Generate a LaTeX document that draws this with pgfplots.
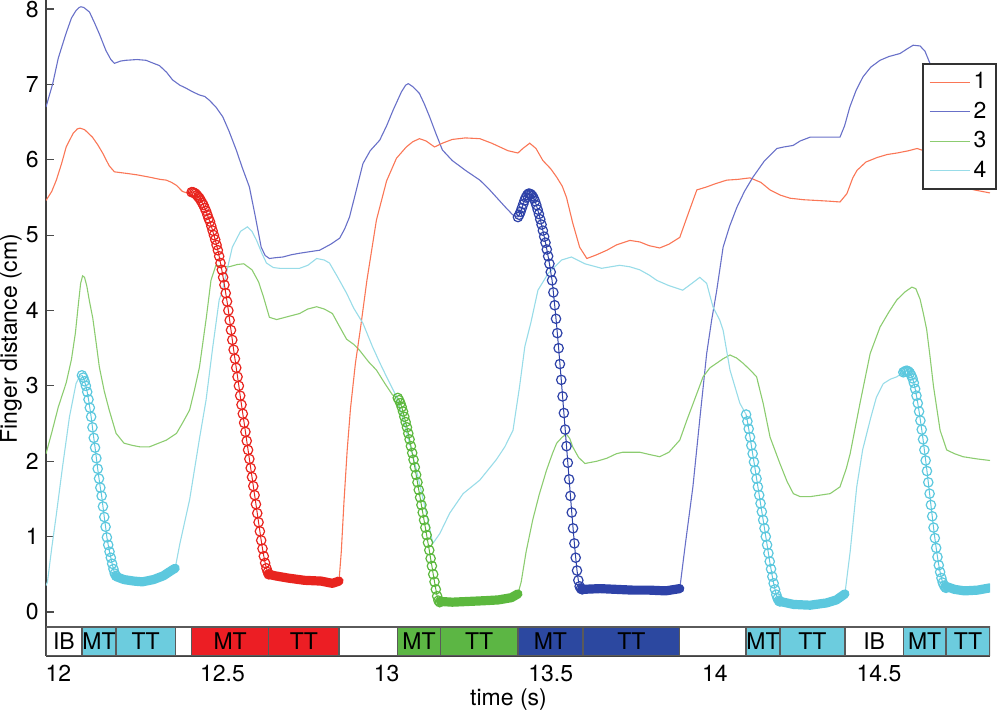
\documentclass[border=0pt]{standalone}
\usepackage{fontspec}
\setmainfont{TeX Gyre Heros}
\usepackage{pgfplots}
\usepackage{pgfplotstable}
\pgfplotsset{compat=1.18}

\definecolor{cAl}{RGB}{250,118,86}
\definecolor{cAm}{RGB}{232,36,30}
\definecolor{cAs}{RGB}{236,30,36}
\definecolor{cBl}{RGB}{104,112,200}
\definecolor{cBm}{RGB}{46,66,168}
\definecolor{cBs}{RGB}{44,72,160}
\definecolor{cCl}{RGB}{140,204,112}
\definecolor{cCm}{RGB}{92,184,62}
\definecolor{cCs}{RGB}{92,182,68}
\definecolor{cDl}{RGB}{152,220,232}
\definecolor{cDm}{RGB}{92,200,222}
\definecolor{cDs}{RGB}{108,204,222}
\definecolor{edge}{RGB}{90,90,90}

% ---------- series 1 ----------
\pgfplotstableread{
t v
11.9625 5.46
11.980 5.58
11.994 5.73
12.010 5.95
12.024 6.17
12.045 6.35
12.058 6.41
12.066 6.42
12.080 6.40
12.104 6.30
12.120 6.20
12.135 6.09
12.155 5.92
12.171 5.84
12.207 5.82
12.240 5.80
12.277 5.77
12.310 5.74
12.329 5.73
12.345 5.70
12.360 5.66
12.378 5.58
12.392 5.56
12.406 5.57
}\oneA
\pgfplotstableread{
t v
12.406 5.57
12.410 5.57
12.414 5.56
12.418 5.55
12.422 5.53
12.426 5.51
12.430 5.49
12.434 5.46
12.438 5.43
12.442 5.40
12.446 5.36
12.450 5.32
12.454 5.27
12.458 5.22
12.462 5.18
12.466 5.12
12.470 5.06
12.474 5.00
12.478 4.94
12.482 4.87
12.486 4.80
12.490 4.72
12.494 4.63
12.498 4.54
12.502 4.44
12.506 4.34
12.510 4.23
12.514 4.12
12.518 4.00
12.522 3.87
12.526 3.74
12.530 3.61
12.534 3.48
12.538 3.36
12.542 3.24
12.546 3.12
12.550 3.00
12.554 2.87
12.558 2.75
12.562 2.63
12.566 2.51
12.570 2.39
12.574 2.27
12.578 2.15
12.582 2.03
12.586 1.91
12.590 1.79
12.594 1.67
12.598 1.55
12.602 1.43
12.606 1.31
12.610 1.19
12.614 1.07
12.618 0.95
12.622 0.84
12.626 0.74
12.630 0.65
12.634 0.58
12.638 0.53
12.641 0.50
}\oneMT
\pgfplotstableread{
t v
12.641 0.50
12.660 0.48
12.700 0.45
12.750 0.42
12.800 0.41
12.835 0.38
12.855 0.41
}\oneTT
\pgfplotstableread{
t v
12.855 0.41
12.862 0.80
12.870 1.45
12.880 2.15
12.890 2.70
12.905 3.30
12.920 3.75
12.940 4.40
12.969 5.20
13.000 5.72
13.030 6.02
13.060 6.17
13.080 6.24
13.100 6.28
13.120 6.25
13.146 6.17
13.170 6.22
13.200 6.27
13.240 6.29
13.284 6.28
13.320 6.22
13.345 6.17
13.370 6.12
13.400 6.09
13.415 6.15
13.436 6.22
13.455 6.15
13.476 5.99
13.500 5.88
13.518 5.77
13.535 5.65
13.548 5.50
13.567 5.16
13.588 4.84
13.610 4.69
13.640 4.74
13.671 4.80
13.700 4.87
13.741 4.93
13.771 4.91
13.800 4.86
13.832 4.83
13.860 4.88
13.893 4.97
13.920 5.30
13.945 5.60
13.975 5.64
14.000 5.68
14.036 5.73
14.070 5.74
14.107 5.76
14.140 5.70
14.168 5.60
14.200 5.53
14.229 5.49
14.270 5.47
14.311 5.46
14.350 5.45
14.381 5.44
14.402 5.55
14.420 5.76
14.433 5.86
14.460 5.97
14.494 6.03
14.525 6.07
14.555 6.09
14.590 6.12
14.616 6.15
14.650 6.10
14.690 5.93
14.716 5.77
14.756 5.64
14.790 5.60
14.838 5.56
}\oneB

% ---------- series 2 ----------
\pgfplotstableread{
t v
11.9625 6.70
11.983 7.01
12.000 7.35
12.023 7.67
12.040 7.88
12.054 7.98
12.063 8.02
12.069 8.03
12.078 8.02
12.095 7.96
12.110 7.82
12.125 7.67
12.145 7.45
12.160 7.33
12.171 7.28
12.190 7.31
12.206 7.32
12.240 7.33
12.267 7.32
12.290 7.28
12.308 7.25
12.330 7.16
12.348 7.06
12.370 6.99
12.389 6.95
12.410 6.90
12.430 6.86
12.446 6.84
12.460 6.79
12.480 6.70
12.501 6.57
12.520 6.38
12.542 6.13
12.560 5.90
12.582 5.64
12.600 5.25
12.618 4.84
12.630 4.73
12.643 4.69
12.660 4.70
12.684 4.71
12.710 4.74
12.735 4.76
12.765 4.78
12.796 4.80
12.830 4.88
12.857 4.96
12.872 5.08
12.887 5.24
12.905 5.55
12.928 5.95
12.950 6.12
12.979 6.26
13.000 6.45
13.020 6.66
13.045 6.90
13.058 6.99
13.066 7.01
13.080 6.97
13.100 6.88
13.115 6.74
13.131 6.57
13.150 6.35
13.170 6.13
13.200 5.99
13.240 5.86
13.284 5.73
13.310 5.62
13.335 5.50
13.360 5.38
13.384 5.27
13.400 5.24
}\twoA
\pgfplotstableread{
t v
13.400 5.24
13.404 5.27
13.408 5.31
13.412 5.36
13.416 5.41
13.420 5.46
13.424 5.50
13.428 5.53
13.432 5.55
13.436 5.55
13.440 5.54
13.444 5.52
13.448 5.49
13.452 5.45
13.456 5.40
13.460 5.34
13.464 5.28
13.468 5.21
13.472 5.14
13.476 5.06
13.480 4.98
13.484 4.90
13.488 4.81
13.492 4.72
13.496 4.62
13.500 4.51
13.504 4.40
13.508 4.24
13.512 4.07
13.516 3.89
13.520 3.70
13.524 3.50
13.528 3.29
13.532 3.08
13.536 2.86
13.540 2.64
13.544 2.42
13.548 2.20
13.552 1.98
13.556 1.76
13.560 1.54
13.564 1.32
13.568 1.11
13.572 0.91
13.576 0.72
13.580 0.55
13.584 0.42
13.588 0.34
13.592 0.31
13.596 0.30
}\twoMT
\pgfplotstableread{
t v
13.596 0.30
13.650 0.31
13.700 0.30
13.750 0.29
13.800 0.29
13.850 0.28
13.893 0.31
}\twoTT
\pgfplotstableread{
t v
13.893 0.31
13.910 0.90
13.933 1.66
13.955 2.60
13.975 3.43
13.990 3.87
14.005 4.25
14.025 4.84
14.045 5.12
14.067 5.37
14.090 5.58
14.116 5.77
14.150 5.98
14.189 6.15
14.210 6.17
14.238 6.19
14.260 6.25
14.290 6.30
14.340 6.30
14.381 6.30
14.395 6.45
14.411 6.70
14.430 6.92
14.451 7.10
14.475 7.23
14.503 7.32
14.530 7.37
14.564 7.41
14.585 7.47
14.604 7.52
14.625 7.51
14.640 7.44
14.655 7.28
14.675 7.00
14.700 6.75
14.750 6.50
14.800 6.35
14.838 6.30
}\twoB

% ---------- series 3 ----------
\pgfplotstableread{
t v
11.9625 2.10
11.980 2.38
12.000 2.72
12.024 3.04
12.040 3.35
12.052 3.70
12.061 4.08
12.068 4.36
12.074 4.46
12.080 4.44
12.087 4.32
12.095 4.12
12.105 3.90
12.115 3.58
12.125 3.25
12.140 2.93
12.155 2.68
12.176 2.37
12.200 2.24
12.226 2.21
12.250 2.19
12.277 2.19
12.300 2.23
12.329 2.28
12.360 2.37
12.380 2.52
12.400 2.68
12.415 2.95
12.430 3.25
12.451 3.91
12.465 4.40
12.480 4.60
12.500 4.59
12.520 4.58
12.545 4.61
12.565 4.62
12.590 4.54
12.610 4.38
12.625 4.18
12.643 3.91
12.665 3.88
12.700 3.92
12.735 3.96
12.760 4.02
12.787 4.05
12.810 4.02
12.835 3.96
12.855 3.80
12.878 3.62
12.900 3.55
12.918 3.47
12.945 3.32
12.969 3.21
12.995 3.03
13.018 2.88
13.034 2.84
}\threeA
\pgfplotstableread{
t v
13.034 2.84
13.038 2.81
13.042 2.77
13.046 2.72
13.050 2.66
13.054 2.59
13.058 2.52
13.062 2.45
13.066 2.37
13.070 2.29
13.074 2.20
13.078 2.11
13.082 2.02
13.086 1.92
13.090 1.82
13.094 1.72
13.098 1.62
13.102 1.52
13.106 1.42
13.110 1.32
13.114 1.22
13.118 1.12
13.122 1.02
13.126 0.92
13.130 0.82
13.134 0.71
13.138 0.61
13.142 0.50
13.146 0.40
13.150 0.30
13.154 0.21
13.158 0.15
13.162 0.13
}\threeMT
\pgfplotstableread{
t v
13.164 0.14
13.200 0.13
13.250 0.14
13.300 0.15
13.340 0.16
13.380 0.19
13.400 0.24
}\threeTT
\pgfplotstableread{
t v
13.400 0.24
13.410 0.40
13.425 0.80
13.445 1.22
13.465 1.56
13.487 1.88
13.505 2.10
13.518 2.24
13.535 2.32
13.548 2.36
13.558 2.30
13.567 2.19
13.585 2.05
13.604 1.97
13.640 2.00
13.671 2.04
13.700 2.10
13.720 2.12
13.771 2.12
13.800 2.09
13.832 2.06
13.860 2.12
13.893 2.28
13.915 2.55
13.934 2.77
13.964 3.12
13.985 3.24
14.005 3.30
14.025 3.36
14.046 3.41
14.066 3.37
14.086 3.30
14.110 3.20
14.127 3.12
14.147 2.77
14.168 2.32
14.198 1.97
14.220 1.73
14.239 1.57
14.260 1.53
14.290 1.53
14.320 1.55
14.351 1.57
14.381 1.66
14.400 1.90
14.412 2.10
14.442 2.77
14.473 3.43
14.503 3.78
14.530 3.98
14.554 4.14
14.580 4.25
14.600 4.31
14.612 4.29
14.625 4.15
14.635 3.96
14.645 3.75
14.655 3.40
14.666 2.99
14.686 2.41
14.706 2.15
14.730 2.10
14.756 2.06
14.800 2.03
14.838 2.01
}\threeB

% ---------- series 4 ----------
\pgfplotstableread{
t v
11.9625 0.35
11.967 0.40
11.980 0.85
11.993 1.26
12.013 1.93
12.034 2.59
12.054 3.03
12.064 3.12
12.072 3.14
}\fourA
\pgfplotstableread{
t v
12.072 3.14
12.076 3.11
12.080 3.06
12.084 3.00
12.088 2.92
12.092 2.82
12.096 2.71
12.100 2.59
12.104 2.45
12.108 2.31
12.112 2.18
12.116 2.04
12.120 1.90
12.124 1.77
12.128 1.65
12.132 1.54
12.136 1.40
12.140 1.26
12.144 1.13
12.148 0.99
12.152 0.89
12.156 0.80
12.160 0.72
12.164 0.64
12.168 0.57
12.172 0.51
12.176 0.48
}\fourMTa
\pgfplotstableread{
t v
12.176 0.47
12.200 0.43
12.230 0.41
12.256 0.40
12.290 0.43
12.320 0.48
12.348 0.56
12.356 0.58
}\fourTTa
\pgfplotstableread{
t v
12.356 0.58
12.370 0.90
12.400 1.49
12.430 2.30
12.450 2.81
12.470 3.50
12.490 4.14
12.500 4.27
12.530 4.84
12.555 5.05
12.576 5.11
12.590 5.05
12.604 4.93
12.620 4.76
12.634 4.63
12.655 4.57
12.674 4.56
12.735 4.56
12.760 4.60
12.787 4.69
12.810 4.67
12.826 4.63
12.850 4.45
12.878 4.23
12.900 4.03
12.928 3.83
12.957 3.52
12.980 3.30
13.000 3.12
13.030 2.86
13.060 2.41
13.091 1.88
13.121 1.31
13.141 0.91
13.162 1.04
13.192 1.31
13.233 1.57
13.284 1.75
13.334 2.02
13.360 2.19
13.385 2.41
13.405 2.99
13.421 3.52
13.440 3.85
13.461 4.27
13.492 4.49
13.533 4.67
13.563 4.71
13.604 4.62
13.655 4.56
13.710 4.60
13.741 4.58
13.771 4.54
13.800 4.47
13.823 4.40
13.860 4.33
13.902 4.27
13.930 4.36
13.954 4.44
13.975 4.36
13.994 4.05
14.015 3.87
14.025 3.74
14.046 3.21
14.076 2.77
14.095 2.62
}\fourB
\pgfplotstableread{
t v
14.095 2.62
14.099 2.53
14.103 2.43
14.107 2.32
14.111 2.21
14.115 2.10
14.119 1.99
14.123 1.88
14.127 1.77
14.131 1.66
14.135 1.55
14.139 1.44
14.143 1.33
14.147 1.22
14.151 1.11
14.155 1.00
14.159 0.89
14.163 0.78
14.167 0.67
14.171 0.57
14.175 0.47
14.179 0.38
14.183 0.30
14.187 0.23
14.191 0.18
14.195 0.15
14.198 0.14
}\fourMTb
\pgfplotstableread{
t v
14.198 0.14
14.240 0.10
14.290 0.09
14.340 0.12
14.370 0.16
14.396 0.24
}\fourTTb
\pgfplotstableread{
t v
14.396 0.24
14.412 0.80
14.432 1.66
14.450 2.15
14.473 2.55
14.492 2.85
14.513 3.03
14.535 3.09
14.554 3.12
14.574 3.18
}\fourC
\pgfplotstableread{
t v
14.574 3.18
14.578 3.19
14.582 3.20
14.586 3.20
14.590 3.19
14.594 3.17
14.598 3.14
14.602 3.10
14.606 3.04
14.610 2.96
14.614 2.87
14.618 2.77
14.622 2.66
14.626 2.54
14.630 2.42
14.634 2.29
14.638 2.15
14.642 2.01
14.646 1.87
14.650 1.72
14.654 1.57
14.658 1.42
14.662 1.27
14.666 1.12
14.670 0.98
14.674 0.85
14.678 0.73
14.682 0.62
14.686 0.53
14.690 0.45
14.694 0.39
14.698 0.35
14.702 0.33
14.704 0.32
}\fourMTc
\pgfplotstableread{
t v
14.704 0.34
14.730 0.30
14.760 0.28
14.800 0.29
14.838 0.32
}\fourTTc

\pgfplotsset{
  lA/.style={color=cAl, line width=0.55pt, mark=none},
  lB/.style={color=cBl, line width=0.55pt, mark=none},
  lC/.style={color=cCl, line width=0.55pt, mark=none},
  lD/.style={color=cDl, line width=0.55pt, mark=none},
  mt/.style={color=#1, line width=0.5pt, mark=o, mark size=2.35pt, mark options={line width=0.6pt}, forget plot},
  tt/.style={color=#1, line width=4.6pt, line cap=round, line join=round, mark=none, forget plot},
  sg/.style={fill=#1, draw=edge, line width=0.6pt, forget plot},
}
\newcommand{\sfont}{\fontsize{11.5}{13}\selectfont}

\begin{document}
\begin{tikzpicture}
\useasboundingbox (-23pt,-30pt) rectangle (477pt,328pt);
\begin{axis}[
  at={(0,0)}, anchor=south west,
  width=472pt, height=328pt, scale only axis,
  xmin=11.9625, xmax=14.838, ymin=-0.584, ymax=8.12,
  axis x line*=bottom, axis y line*=left,
  axis line style={-, draw=black!75, line width=0.6pt},
  xtick={12,12.5,13,13.5,14,14.5},
  xticklabels={12,12.5,13,13.5,14,14.5},
  xtick style={draw=none},
  ytick={0,1,2,3,4,5,6,7,8},
  ytick style={draw=black!70, line width=0.6pt},
  tick align=inside, major tick length=4pt,
  tick label style={font=\sfont, text=black},
  /pgf/number format/assume math mode=true,
  xticklabel style={inner sep=0pt, yshift=-4.5pt},
  yticklabel style={inner sep=3.5pt},
  xlabel={time (s)}, ylabel={Finger distance (cm)},
  label style={font=\sfont},
  xlabel style={at={(axis description cs:0.49,-0.0671)}, anchor=center},
  ylabel style={at={(axis description cs:-0.0371,0.484)}, anchor=center},
  legend style={at={(axis description cs:1.0074,0.904)}, anchor=north east,
    draw=black!80, line width=0.9pt, fill=white, font=\sfont,
    inner xsep=3pt, inner ysep=2.5pt, row sep=1.5pt,
    nodes={inner sep=1.8pt}},
  legend cell align=left,
  legend image code/.code={\draw[#1, line width=0.55pt] (0pt,0pt) -- (20pt,0pt);},
  clip=true,
]
% strip of phases
\addplot[sg=white] coordinates {(11.9625,-0.584) (11.9625,-0.2) (12.072,-0.2) (12.072,-0.584)} --cycle;
\addplot[sg=cDs] coordinates {(12.072,-0.584) (12.072,-0.2) (12.176,-0.2) (12.176,-0.584)} --cycle;
\addplot[sg=cDs] coordinates {(12.176,-0.584) (12.176,-0.2) (12.356,-0.2) (12.356,-0.584)} --cycle;
\addplot[sg=white] coordinates {(12.356,-0.584) (12.356,-0.2) (12.406,-0.2) (12.406,-0.584)} --cycle;
\addplot[sg=cAs] coordinates {(12.406,-0.584) (12.406,-0.2) (12.641,-0.2) (12.641,-0.584)} --cycle;
\addplot[sg=cAs] coordinates {(12.641,-0.584) (12.641,-0.2) (12.855,-0.2) (12.855,-0.584)} --cycle;
\addplot[sg=white] coordinates {(12.855,-0.584) (12.855,-0.2) (13.034,-0.2) (13.034,-0.584)} --cycle;
\addplot[sg=cCs] coordinates {(13.034,-0.584) (13.034,-0.2) (13.164,-0.2) (13.164,-0.584)} --cycle;
\addplot[sg=cCs] coordinates {(13.164,-0.584) (13.164,-0.2) (13.400,-0.2) (13.400,-0.584)} --cycle;
\addplot[sg=cBs] coordinates {(13.400,-0.584) (13.400,-0.2) (13.598,-0.2) (13.598,-0.584)} --cycle;
\addplot[sg=cBs] coordinates {(13.598,-0.584) (13.598,-0.2) (13.893,-0.2) (13.893,-0.584)} --cycle;
\addplot[sg=white] coordinates {(13.893,-0.584) (13.893,-0.2) (14.095,-0.2) (14.095,-0.584)} --cycle;
\addplot[sg=cDs] coordinates {(14.095,-0.584) (14.095,-0.2) (14.198,-0.2) (14.198,-0.584)} --cycle;
\addplot[sg=cDs] coordinates {(14.198,-0.584) (14.198,-0.2) (14.396,-0.2) (14.396,-0.584)} --cycle;
\addplot[sg=white] coordinates {(14.396,-0.584) (14.396,-0.2) (14.574,-0.2) (14.574,-0.584)} --cycle;
\addplot[sg=cDs] coordinates {(14.574,-0.584) (14.574,-0.2) (14.704,-0.2) (14.704,-0.584)} --cycle;
\addplot[sg=cDs] coordinates {(14.704,-0.584) (14.704,-0.2) (14.838,-0.2) (14.838,-0.584)} --cycle;

\node[font=\sfont] at (axis cs:12.017,-0.392) {IB};
\node[font=\sfont] at (axis cs:12.124,-0.392) {MT};
\node[font=\sfont] at (axis cs:12.266,-0.392) {TT};
\node[font=\sfont] at (axis cs:12.5235,-0.392) {MT};
\node[font=\sfont] at (axis cs:12.748,-0.392) {TT};
\node[font=\sfont] at (axis cs:13.099,-0.392) {MT};
\node[font=\sfont] at (axis cs:13.282,-0.392) {TT};
\node[font=\sfont] at (axis cs:13.499,-0.392) {MT};
\node[font=\sfont] at (axis cs:13.7455,-0.392) {TT};
\node[font=\sfont] at (axis cs:14.1465,-0.392) {MT};
\node[font=\sfont] at (axis cs:14.297,-0.392) {TT};
\node[font=\sfont] at (axis cs:14.485,-0.392) {IB};
\node[font=\sfont] at (axis cs:14.639,-0.392) {MT};
\node[font=\sfont] at (axis cs:14.771,-0.392) {TT};

% main lines (legend)
\addplot[lA] table[x=t,y=v] {\oneA}; \addlegendentry{1}
\addplot[lB] table[x=t,y=v] {\twoA}; \addlegendentry{2}
\addplot[lC] table[x=t,y=v] {\threeA}; \addlegendentry{3}
\addplot[lD] table[x=t,y=v] {\fourA}; \addlegendentry{4}
\addplot[lA, forget plot] table[x=t,y=v] {\oneB};
\addplot[lB, forget plot] table[x=t,y=v] {\twoB};
\addplot[lC, forget plot] table[x=t,y=v] {\threeB};
\addplot[lD, forget plot] table[x=t,y=v] {\fourB};
\addplot[lD, forget plot] table[x=t,y=v] {\fourC};

% TT phases
\addplot[tt=cAm] table[x=t,y=v] {\oneTT};
\addplot[tt=cBm] table[x=t,y=v] {\twoTT};
\addplot[tt=cCm] table[x=t,y=v] {\threeTT};
\addplot[tt=cDm] table[x=t,y=v] {\fourTTa};
\addplot[tt=cDm] table[x=t,y=v] {\fourTTb};
\addplot[tt=cDm] table[x=t,y=v] {\fourTTc};

% MT phases
\addplot[mt=cAm] table[x=t,y=v] {\oneMT};
\addplot[mt=cBm] table[x=t,y=v] {\twoMT};
\addplot[mt=cCm] table[x=t,y=v] {\threeMT};
\addplot[mt=cDm] table[x=t,y=v] {\fourMTa};
\addplot[mt=cDm] table[x=t,y=v] {\fourMTb};
\addplot[mt=cDm] table[x=t,y=v] {\fourMTc};
\end{axis}
\end{tikzpicture}
\end{document}
